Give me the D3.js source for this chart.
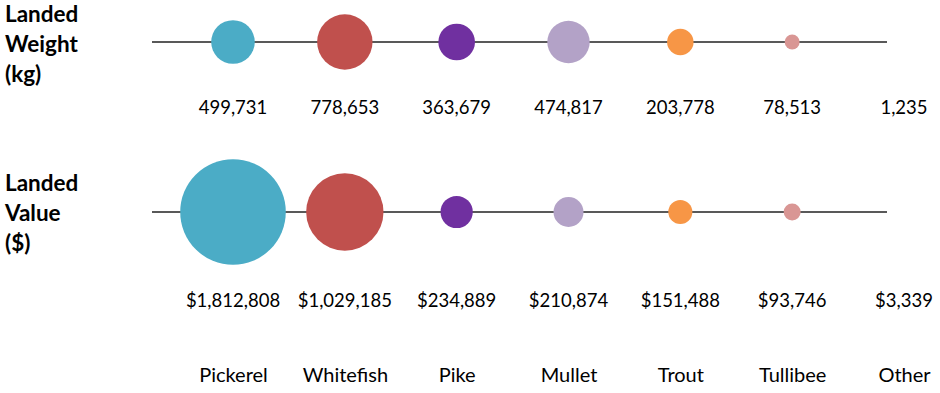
<!DOCTYPE html>
<html>
<head>
<meta charset="utf-8">
<script src="https://cdn.jsdelivr.net/npm/d3@7"></script>
<style>
  html, body { margin: 0; padding: 0; background: #fff; }
  svg { display: block; font-family: Lato, "Open Sans", sans-serif; }
</style>
</head>
<body>
<div class="fish-chart"></div>
<script>
// data
const species = ['Pickerel', 'Whitefish', 'Pike', 'Mullet', 'Trout', 'Tullibee', 'Other'];
const landedWeight = [499731, 778653, 363679, 474817, 203778, 78513, 1235];
const landedValue = [1812808, 1029185, 234889, 210874, 151488, 93746, 3339];
const weightTitle = ['Landed', 'Weight', '(kg)'];
const valueTitle = ['Landed', 'Value', '($)'];

const palette = ['#4bacc6', '#c0504d', '#7030a0', '#b3a2c7', '#f79646', '#d99694', '#a5a5a5'];

const width = 940;
const height = 393;

const svg = d3.select('.fish-chart')
  .append('svg')
    .attr('width', width)
    .attr('height', height);

const x = d3.scalePoint()
  .domain(species)
  .range([233, 904]);

const color = d3.scaleOrdinal()
  .domain(species)
  .range(palette);

const fmtNum = d3.format(',');
const fmtDollar = d3.format('$,');

const rows = [
  { title: weightTitle, values: landedWeight, fmt: fmtNum, y: 42, labelY: 114, titleY: 22, rMax: 27.7, floor: 3200 },
  { title: valueTitle, values: landedValue, fmt: fmtDollar, y: 212, labelY: 307, titleY: 191, rMax: 52.8, floor: 11360 }
];

rows.forEach(row => {
  const r = d3.scaleSqrt()
    .domain([row.floor, d3.max(row.values)])
    .range([0, row.rMax])
    .clamp(true);

  const g = svg.append('g');

  g.append('line')
      .attr('x1', x(species[0]) - 81)
      .attr('x2', x(species[species.length - 1]) - 17)
      .attr('y1', row.y)
      .attr('y2', row.y)
      .attr('stroke', '#595959')
      .attr('stroke-width', 2);

  g.selectAll('circle')
      .data(species.map((s, i) => ({ name: s, value: row.values[i] })))
    .enter().append('circle')
      .attr('cx', d => x(d.name))
      .attr('cy', row.y)
      .attr('r', d => r(d.value))
      .attr('fill', d => color(d.name));

  g.selectAll('.val')
      .data(species.map((s, i) => ({ name: s, value: row.values[i] })))
    .enter().append('text')
      .attr('class', 'val')
      .attr('x', d => x(d.name))
      .attr('y', row.labelY)
      .attr('text-anchor', 'middle')
      .attr('font-size', 18.5)
      .attr('fill', '#000')
      .text(d => row.fmt(d.value));

  g.selectAll('.title')
      .data(row.title)
    .enter().append('text')
      .attr('class', 'title')
      .attr('x', 5)
      .attr('y', (d, i) => row.titleY + i * 30)
      .attr('font-size', 22.5)
      .attr('font-weight', 'bold')
      .attr('fill', '#000')
      .text(d => d);
});

// category names along the bottom
svg.append('g')
  .attr('transform', 'translate(0,382)')
  .call(d3.axisBottom(x).tickSize(0).tickPadding(0))
  .call(ax => ax.select('.domain').remove())
  .selectAll('text')
    .attr('dy', 0)
    .attr('font-size', 20)
    .attr('font-family', 'Lato, "Open Sans", sans-serif')
    .attr('fill', '#000');
</script>
</body>
</html>
